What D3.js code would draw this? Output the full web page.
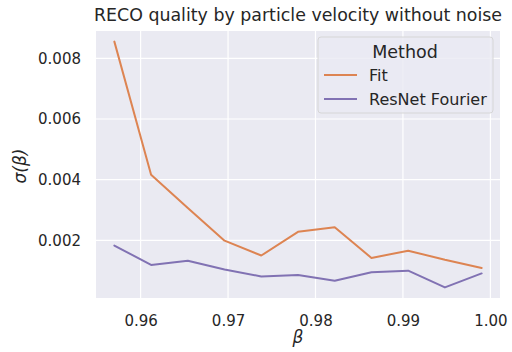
<!DOCTYPE html>
<html>
<head>
<meta charset="utf-8">
<script src="https://cdn.jsdelivr.net/npm/d3@7"></script>
<style>
  body { margin: 0; background: #fff; }
  text { font-family: "DejaVu Sans", sans-serif; fill: #262626; }
</style>
</head>
<body>
<div id="chart"></div>
<script>
(function(d3) {
  'use strict';

  var betas = [0.957, 0.9612, 0.9654, 0.9696, 0.9738, 0.978, 0.9822, 0.9864, 0.9906, 0.9948, 0.999];
  var fitValues = [0.00855, 0.00416, 0.00307, 0.00199, 0.00150, 0.00228, 0.00243, 0.00142, 0.00166, 0.00136, 0.00109];
  var resnetValues = [0.00183, 0.00119, 0.00133, 0.00104, 0.00081, 0.00086, 0.00067, 0.00095, 0.00100, 0.00045, 0.00091];
  var seriesNames = ['Fit', 'ResNet Fourier'];
  var xTicks = [0.96, 0.97, 0.98, 0.99, 1.00];
  var yTicks = [0.002, 0.004, 0.006, 0.008];

  var width = 512;
  var height = 352;
  var margin = { top: 31, right: 12, bottom: 54, left: 96 };
  var innerW = width - margin.left - margin.right;
  var innerH = height - margin.top - margin.bottom;

  var color = d3.scaleOrdinal()
    .domain(seriesNames)
    .range(['#dd8452', '#8172b3']);

  var series = [
    { name: seriesNames[0], values: fitValues },
    { name: seriesNames[1], values: resnetValues }
  ];

  var x = d3.scaleLinear().domain([0.9549, 1.0011]).range([0, innerW]);
  var y = d3.scaleLinear().domain([0.0001, 0.0089]).range([innerH, 0]);

  var svg = d3.select('#chart')
    .append('svg')
    .attr('width', width)
    .attr('height', height);

  var g = svg.append('g')
    .attr('transform', 'translate(' + margin.left + ',' + margin.top + ')');

  g.append('rect')
    .attr('width', innerW)
    .attr('height', innerH)
    .attr('fill', '#eaeaf2');

  // grid
  g.selectAll('.vgrid')
    .data(xTicks)
    .enter()
    .append('line')
    .attr('x1', function(d) { return x(d); })
    .attr('x2', function(d) { return x(d); })
    .attr('y1', 0)
    .attr('y2', innerH)
    .attr('stroke', '#fff')
    .attr('stroke-width', 1.2);

  g.selectAll('.hgrid')
    .data(yTicks)
    .enter()
    .append('line')
    .attr('y1', function(d) { return y(d); })
    .attr('y2', function(d) { return y(d); })
    .attr('x1', 0)
    .attr('x2', innerW)
    .attr('stroke', '#fff')
    .attr('stroke-width', 1.2);

  // axes
  var xAxis = g.append('g')
    .attr('transform', 'translate(0,' + innerH + ')')
    .call(d3.axisBottom(x).tickValues(xTicks).tickFormat(d3.format('.2f')).tickSize(0).tickPadding(17));
  var yAxis = g.append('g')
    .call(d3.axisLeft(y).tickValues(yTicks).tickFormat(d3.format('.3f')).tickSize(0).tickPadding(15));

  [xAxis, yAxis].forEach(function(a) {
    a.select('.domain').remove();
    a.selectAll('text')
      .attr('fill', '#262626')
      .style('font-family', '"DejaVu Sans", sans-serif')
      .style('font-size', '15px');
  });

  // lines
  var line = d3.line()
    .x(function(d, i) { return x(betas[i]); })
    .y(function(d) { return y(d); });

  g.selectAll('.series')
    .data(series)
    .enter()
    .append('path')
    .attr('d', function(d) { return line(d.values); })
    .attr('fill', 'none')
    .attr('stroke', function(d) { return color(d.name); })
    .attr('stroke-width', 2)
    .attr('stroke-linejoin', 'round')
    .attr('stroke-linecap', 'round');

  // title and labels
  svg.append('text')
    .attr('x', margin.left + innerW / 2)
    .attr('y', 21)
    .attr('text-anchor', 'middle')
    .style('font-size', '17.4px')
    .text('RECO quality by particle velocity without noise');

  svg.append('text')
    .attr('x', 298)
    .attr('y', 343)
    .attr('text-anchor', 'middle')
    .style('font-size', '17px')
    .style('font-style', 'italic')
    .text('β');

  svg.append('text')
    .attr('transform', 'translate(26,166) rotate(-90)')
    .attr('text-anchor', 'middle')
    .style('font-size', '17px')
    .style('font-style', 'italic')
    .text('σ(β)');

  // legend
  var legend = svg.append('g').attr('transform', 'translate(318,37)');
  legend.append('rect')
    .attr('width', 175)
    .attr('height', 76)
    .attr('rx', 3)
    .attr('fill', '#eaeaf2')
    .attr('fill-opacity', 0.8)
    .attr('stroke', '#d6d6d6');
  legend.append('text')
    .attr('x', 87)
    .attr('y', 21)
    .attr('text-anchor', 'middle')
    .style('font-size', '17.5px')
    .text('Method');

  var items = legend.selectAll('.item')
    .data(seriesNames)
    .enter()
    .append('g')
    .attr('transform', function(d, i) { return 'translate(0,' + (38 + i * 24) + ')'; });
  items.append('line')
    .attr('x1', 6)
    .attr('x2', 39)
    .attr('stroke', function(d) { return color(d); })
    .attr('stroke-width', 2);
  items.append('text')
    .attr('x', 51)
    .attr('dy', '0.35em')
    .style('font-size', '16px')
    .text(function(d) { return d; });
})(window.d3);
</script>
</body>
</html>
